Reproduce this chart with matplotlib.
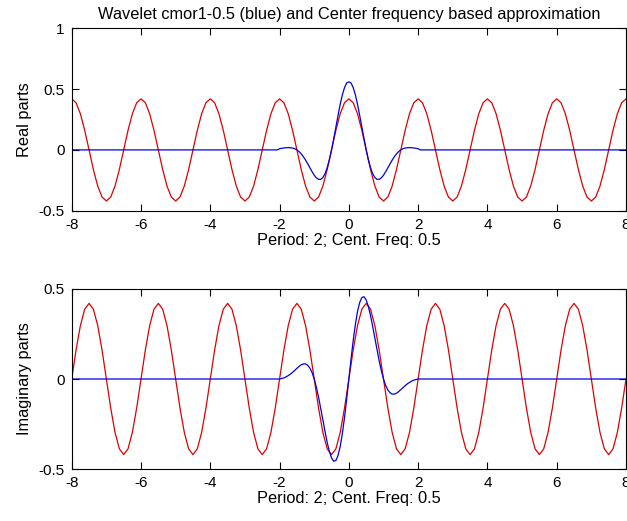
import numpy as np
import matplotlib
matplotlib.use('Agg')
import matplotlib.pyplot as plt

plt.rcParams['font.family'] = ['Liberation Sans', 'DejaVu Sans']

# sample positions: red on a 0.125 grid, blue on a 0.0625 grid, both -8..8
xval = np.linspace(-8, 8, 129)
xblue = np.linspace(-8, 8, 257)

# red: center frequency based approximation, real part (cos)
red_real = [
    0.42, 0.388, 0.297, 0.161, 0, -0.161, -0.297, -0.388, -0.42, -0.388, -0.297, -0.161, 0, 0.161, 0.297, 0.388,
    0.42, 0.388, 0.297, 0.161, 0, -0.161, -0.297, -0.388, -0.42, -0.388, -0.297, -0.161, 0, 0.161, 0.297, 0.388,
    0.42, 0.388, 0.297, 0.161, 0, -0.161, -0.297, -0.388, -0.42, -0.388, -0.297, -0.161, 0, 0.161, 0.297, 0.388,
    0.42, 0.388, 0.297, 0.161, 0, -0.161, -0.297, -0.388, -0.42, -0.388, -0.297, -0.161, 0, 0.161, 0.297, 0.388,
    0.42, 0.388, 0.297, 0.161, 0, -0.161, -0.297, -0.388, -0.42, -0.388, -0.297, -0.161, 0, 0.161, 0.297, 0.388,
    0.42, 0.388, 0.297, 0.161, 0, -0.161, -0.297, -0.388, -0.42, -0.388, -0.297, -0.161, 0, 0.161, 0.297, 0.388,
    0.42, 0.388, 0.297, 0.161, 0, -0.161, -0.297, -0.388, -0.42, -0.388, -0.297, -0.161, 0, 0.161, 0.297, 0.388,
    0.42, 0.388, 0.297, 0.161, 0, -0.161, -0.297, -0.388, -0.42, -0.388, -0.297, -0.161, 0, 0.161, 0.297, 0.388,
    0.42]

# red: imaginary part (sin)
red_imag = [
    0, 0.161, 0.297, 0.388, 0.42, 0.388, 0.297, 0.161, 0, -0.161, -0.297, -0.388, -0.42, -0.388, -0.297, -0.161,
    0, 0.161, 0.297, 0.388, 0.42, 0.388, 0.297, 0.161, 0, -0.161, -0.297, -0.388, -0.42, -0.388, -0.297, -0.161,
    0, 0.161, 0.297, 0.388, 0.42, 0.388, 0.297, 0.161, 0, -0.161, -0.297, -0.388, -0.42, -0.388, -0.297, -0.161,
    0, 0.161, 0.297, 0.388, 0.42, 0.388, 0.297, 0.161, 0, -0.161, -0.297, -0.388, -0.42, -0.388, -0.297, -0.161,
    0, 0.161, 0.297, 0.388, 0.42, 0.388, 0.297, 0.161, 0, -0.161, -0.297, -0.388, -0.42, -0.388, -0.297, -0.161,
    0, 0.161, 0.297, 0.388, 0.42, 0.388, 0.297, 0.161, 0, -0.161, -0.297, -0.388, -0.42, -0.388, -0.297, -0.161,
    0, 0.161, 0.297, 0.388, 0.42, 0.388, 0.297, 0.161, 0, -0.161, -0.297, -0.388, -0.42, -0.388, -0.297, -0.161,
    0, 0.161, 0.297, 0.388, 0.42, 0.388, 0.297, 0.161, 0, -0.161, -0.297, -0.388, -0.42, -0.388, -0.297, -0.161,
    0]

# blue: wavelet cmor1-0.5, nonzero part between -2 and 2 (step 0.0625)
blue_real_mid = [
    0.010, 0.013, 0.016, 0.018, 0.019, 0.018, 0.015, 0.010,
    0, -0.014, -0.033, -0.056, -0.084, -0.114, -0.147, -0.179,
    -0.208, -0.230, -0.242, -0.242, -0.227, -0.195, -0.146, -0.080,
    0, 0.091, 0.188, 0.284, 0.375, 0.453, 0.513, 0.551,
    0.560,
    0.551, 0.513, 0.453, 0.375, 0.284, 0.188, 0.091, 0,
    -0.080, -0.146, -0.195, -0.227, -0.242, -0.242, -0.230, -0.208,
    -0.179, -0.147, -0.114, -0.084, -0.056, -0.033, -0.014, 0,
    0.010, 0.015, 0.018, 0.019, 0.018, 0.016, 0.013, 0.010]
blue_imag_mid = [
    0, 0.003, 0.006, 0.012, 0.019, 0.027, 0.037, 0.048,
    0.059, 0.070, 0.079, 0.084, 0.084, 0.076, 0.061, 0.036,
    0, -0.046, -0.100, -0.162, -0.227, -0.292, -0.353, -0.403,
    -0.439, -0.457, -0.453, -0.425, -0.375, -0.303, -0.213, -0.110,
    0,
    0.110, 0.213, 0.303, 0.375, 0.425, 0.453, 0.457, 0.439,
    0.403, 0.353, 0.292, 0.227, 0.162, 0.100, 0.046, 0,
    -0.036, -0.061, -0.076, -0.084, -0.084, -0.079, -0.070, -0.059,
    -0.048, -0.037, -0.027, -0.019, -0.012, -0.006, -0.003, 0]

blue_real = [0.0] * 96 + blue_real_mid + [0.0] * 96
blue_imag = [0.0] * 96 + blue_imag_mid + [0.0] * 96

xticks = [-8, -6, -4, -2, 0, 2, 4, 6, 8]
fs_tick = 11
fs_lab = 11.8

fig = plt.figure(figsize=(6.27, 5.21), dpi=100)
ax1 = fig.add_axes([0.1144, 0.5956, 0.884, 0.350])
ax2 = fig.add_axes([0.1144, 0.0998, 0.884, 0.3455])

for ax, blue, red, ylab, ylim, yt in [
        (ax1, blue_real, red_real, 'Real parts', (-0.5, 1), [-0.5, 0, 0.5, 1]),
        (ax2, blue_imag, red_imag, 'Imaginary parts', (-0.5, 0.5), [-0.5, 0, 0.5])]:
    ax.plot(xval, red, color='#dd0000', lw=0.9)
    ax.plot(xblue, blue, color='#0000e0', lw=0.9)
    ax.set_xlim(-8, 8)
    ax.set_ylim(*ylim)
    ax.set_xticks(xticks)
    ax.set_xticklabels([str(t) for t in xticks])
    ax.set_yticks(yt)
    ax.set_yticklabels(['%g' % t for t in yt])
    ax.tick_params(direction='in', top=True, right=True, length=5, width=0.8,
                   labelsize=fs_tick, pad=5)
    ax.set_xlabel('Period: 2; Cent. Freq: 0.5', fontsize=fs_lab, labelpad=1)
    ax.set_ylabel(ylab, fontsize=fs_lab, labelpad=5)
    for s in ax.spines.values():
        s.set_linewidth(0.8)

ax1.set_title('Wavelet cmor1-0.5 (blue) and Center frequency based approximation',
              fontsize=fs_lab, pad=7)

fig.savefig('out.png', dpi=100)
